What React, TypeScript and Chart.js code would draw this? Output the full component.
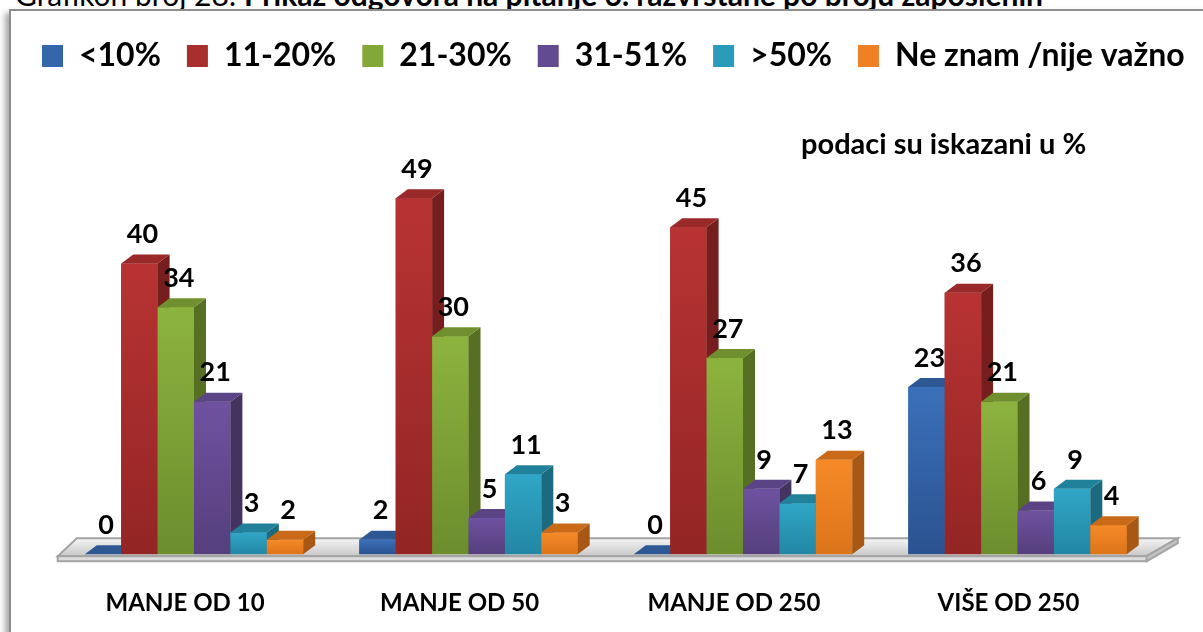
import React, { useEffect, useRef } from "react";
import { Chart, registerables } from "chart.js";

Chart.register(...registerables);

// ---------- data ----------
const categories = ["MANJE OD 10", "MANJE OD 50", "MANJE OD 250", "VIŠE OD 250"];
const seriesNames = ["<10%", "11-20%", "21-30%", "31-51%", ">50%", "Ne znam /nije važno"];
const lt10 = [0, 2, 0, 23];
const p11to20 = [40, 49, 45, 36];
const p21to30 = [34, 30, 27, 21];
const p31to51 = [21, 5, 9, 6];
const gt50 = [3, 11, 7, 9];
const dontKnow = [2, 3, 13, 4];
const seriesValues = [lt10, p11to20, p21to30, p31to51, gt50, dontKnow];

const titlePrefix = "Grafikon broj 28: ";
const titleMain = "Prikaz odgovora na pitanje 6. razvrstane po broju zaposlenih";
const noteText = "podaci su iskazani u %";

// ---------- styles ----------
const FONT = "Lato, 'Open Sans', 'DejaVu Sans', sans-serif";
const palette = [
  { mid: "#3366aa", light: "#3b70ba", dark: "#2a5290", top: "#2e5893", side: "#22467c" },
  { mid: "#a92e2e", light: "#b83333", dark: "#932525", top: "#9a2929", side: "#761e1e" },
  { mid: "#82a83a", light: "#8db33f", dark: "#6c8d2d", top: "#70902f", side: "#566f22" },
  { mid: "#634b92", light: "#6e52a0", dark: "#553f7c", top: "#5a4486", side: "#44335f" },
  { mid: "#2a9bbb", light: "#30a6c6", dark: "#2287a4", top: "#22819a", side: "#1c6a80" },
  { mid: "#ef8124", light: "#f68a28", dark: "#dc7419", top: "#c96a19", side: "#a85814" },
];
const DX = 12;
const DY = 9;

const bars3d = {
  id: "bars3d",
  beforeDatasetsDraw(chart: any) {
    const ctx = chart.ctx;
    const { left, right } = chart.chartArea;
    const base = chart.scales.y.getPixelForValue(0);
    const backY = base - 16;
    const frontY = base + 2;
    const th = 5;
    const fl = left + 1;
    const fr = right - 8;
    const bl = left + 20;
    const br = right + 23;
    ctx.save();
    const g = ctx.createLinearGradient(0, backY, 0, frontY);
    g.addColorStop(0, "#f5f5f5");
    g.addColorStop(1, "#c8c8c8");
    ctx.beginPath();
    ctx.moveTo(bl, backY);
    ctx.lineTo(br, backY);
    ctx.lineTo(fr, frontY);
    ctx.lineTo(fl, frontY);
    ctx.closePath();
    ctx.fillStyle = g;
    ctx.fill();
    ctx.lineWidth = 2;
    ctx.strokeStyle = "#a4a4a4";
    ctx.stroke();
    ctx.fillStyle = "#dcdcdc";
    ctx.fillRect(fl, frontY, fr - fl, th);
    ctx.strokeRect(fl, frontY, fr - fl, th);
    ctx.beginPath();
    ctx.moveTo(fr, frontY);
    ctx.lineTo(br, backY);
    ctx.lineTo(br, backY + th);
    ctx.lineTo(fr, frontY + th);
    ctx.closePath();
    ctx.fillStyle = "#c4c4c4";
    ctx.fill();
    ctx.stroke();
    ctx.restore();
  },
  afterDatasetsDraw(chart: any) {
    const ctx = chart.ctx;
    const n = chart.data.labels.length;
    ctx.save();
    for (let c = 0; c < n; c++) {
      chart.data.datasets.forEach((ds: any, d: number) => {
        const el = chart.getDatasetMeta(d).data[c];
        const { x, y, base, width } = el.getProps(["x", "y", "base", "width"], true);
        const l = x - width / 2;
        const r = x + width / 2;
        const col = palette[d];
        const g = ctx.createLinearGradient(0, y, 0, base);
        g.addColorStop(0, col.light);
        g.addColorStop(1, col.dark);
        ctx.fillStyle = g;
        ctx.fillRect(l, y, width, base - y);
        ctx.beginPath();
        ctx.moveTo(r, y);
        ctx.lineTo(r + DX, y - DY);
        ctx.lineTo(r + DX, base - DY);
        ctx.lineTo(r, base);
        ctx.closePath();
        ctx.fillStyle = col.side;
        ctx.fill();
        ctx.beginPath();
        ctx.moveTo(l, y);
        ctx.lineTo(l + DX, y - DY);
        ctx.lineTo(r + DX, y - DY);
        ctx.lineTo(r, y);
        ctx.closePath();
        ctx.fillStyle = col.top;
        ctx.fill();
      });
    }
    ctx.font = `bold 27px ${FONT}`;
    ctx.fillStyle = "#000";
    ctx.textAlign = "center";
    ctx.textBaseline = "middle";
    chart.data.datasets.forEach((ds: any, d: number) => {
      chart.getDatasetMeta(d).data.forEach((el: any, i: number) => {
        const { x, y } = el.getProps(["x", "y"], true);
        ctx.fillText(String(ds.data[i]), x + 3, y - 29);
      });
    });
    ctx.restore();
  },
};

export default function App() {
  const ref = useRef<HTMLCanvasElement>(null);
  useEffect(() => {
    if (!ref.current) return;
    const chart = new Chart(ref.current, {
      type: "bar",
      data: {
        labels: categories,
        datasets: seriesValues.map((vals, i) => ({
          label: seriesNames[i],
          data: vals,
          backgroundColor: palette[i].mid,
          borderWidth: 0,
          barPercentage: 1,
          categoryPercentage: 0.7956,
        })),
      },
      options: {
        responsive: false,
        animation: false,
        layout: { padding: { left: 7, right: 0, top: 7, bottom: 34 } },
        plugins: {
          legend: {
            display: true,
            position: "top",
            align: "start",
            labels: {
              boxWidth: 21,
              boxHeight: 22,
              padding: 26,
              color: "#000",
              font: { family: FONT, size: 32, weight: "bold" },
            },
          },
          tooltip: { enabled: false },
        },
        scales: {
          x: {
            grid: { display: false, drawTicks: false },
            border: { display: false },
            ticks: {
              color: "#000",
              padding: 35,
              labelOffset: -9,
              font: { family: FONT, size: 24, weight: "bold" },
            },
          },
          y: {
            min: 0,
            max: 65,
            grid: { display: false },
            border: { display: false },
            ticks: { display: false },
            afterFit: (s: any) => {
              s.width = 40.75;
            },
          },
          y2: {
            axis: "y",
            position: "right",
            min: 0,
            max: 1,
            grid: { display: false },
            border: { display: false },
            ticks: { display: false },
            afterFit: (s: any) => {
              s.width = 114.25;
            },
          },
        },
      },
      plugins: [bars3d],
    } as any);
    return () => chart.destroy();
  }, []);

  return (
    <div
      style={{
        position: "fixed",
        left: 0,
        top: 0,
        width: 1203,
        height: 632,
        overflow: "hidden",
        background: "#fff",
      }}
    >
      <div
        style={{
          position: "absolute",
          left: 15,
          top: -21,
          fontFamily: FONT,
          fontSize: 30,
          lineHeight: "30px",
          whiteSpace: "nowrap",
          color: "#000",
        }}
      >
        {titlePrefix}
        <b>{titleMain}</b>
      </div>
      <div
        style={{
          position: "absolute",
          left: 9,
          top: 9,
          width: 1240,
          height: 700,
          border: "2px solid #8e8e8e",
          boxShadow: "-4px 4px 6px rgba(0,0,0,0.35)",
          background: "#fff",
        }}
      />
      <canvas
        ref={ref}
        width={1260}
        height={680}
        style={{ position: "absolute", left: 9, top: 7, width: 1260, height: 680 }}
      />
      <div
        style={{
          position: "absolute",
          left: 801,
          top: 124,
          fontFamily: FONT,
          fontSize: 29,
          fontWeight: "bold",
          lineHeight: "38px",
          whiteSpace: "nowrap",
          color: "#000",
        }}
      >
        {noteText}
      </div>
    </div>
  );
}
